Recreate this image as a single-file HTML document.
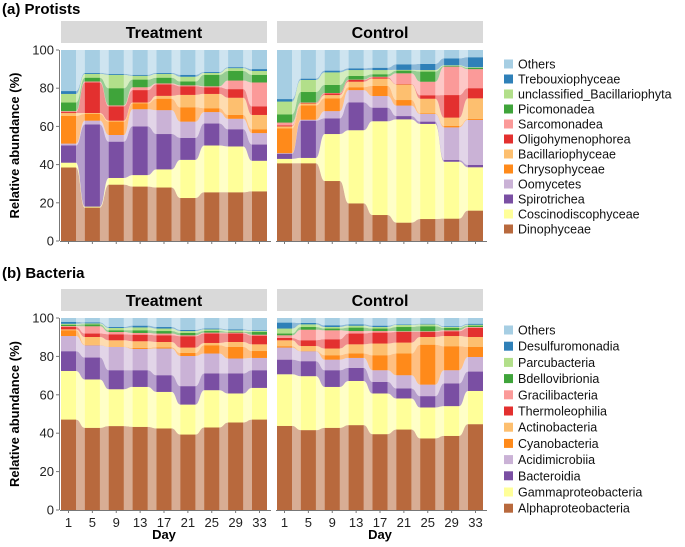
<!DOCTYPE html>
<html><head><meta charset="utf-8">
<style>
body{margin:0;background:#fff;font-family:"Liberation Sans",Arial,sans-serif;}
svg text{font-family:"Liberation Sans",Arial,sans-serif;}
</style></head>
<body>
<svg id="chart" width="685" height="542" xmlns="http://www.w3.org/2000/svg"></svg>
<script>
const days = [1,5,9,13,17,21,25,29,33];
const yTicks = [0,20,40,60,80,100];
const protistTaxa = ["Dinophyceae","Coscinodiscophyceae","Spirotrichea","Oomycetes","Chrysophyceae","Bacillariophyceae","Oligohymenophorea","Sarcomonadea","Picomonadea","unclassified_Bacillariophyta","Trebouxiophyceae","Others"];
const bacteriaTaxa = ["Alphaproteobacteria","Gammaproteobacteria","Bacteroidia","Acidimicrobiia","Cyanobacteria","Actinobacteria","Thermoleophilia","Gracilibacteria","Bdellovibrionia","Parcubacteria","Desulfuromonadia","Others"];
const colors = ["#b8693d","#ffff99","#7a4fa3","#cab2d6","#ff8a1a","#fdbf6f","#e3302f","#fb9a99","#3fa43a","#b2df8a","#2f80b8","#a6cee3"];
// cumulative abundance (%) at top of each taxon (bottom to top; "Others" tops at 100)
const protTreatment = [
 [38.5,41,50,51,65.5,67,67.5,68,72.5,77,78.5,100],
 [17.5,18,61,63,66.5,67,83,83.5,85.5,87.5,88,100],
 [29.5,33,52,55.5,62.5,63,70.5,71,80,87,87.5,100],
 [28.5,34.5,60,69,72,72.5,79,80.5,84.5,86.5,87,100],
 [28,37.5,56,68.5,74.5,76,82,82.5,85.5,87.5,88,100],
 [22.5,42.5,54,62.5,70,76.5,81,81.5,83.5,86,87,100],
 [25.5,50,61.5,67.5,69.5,77,80.5,81,87,88,88.5,100],
 [25.5,49.5,58.5,64,66,75,79.5,84,89,90.5,91,100],
 [26,42,50.5,56.5,58.5,66,70.5,83,87,89,90,100]
];
const protControl = [
 [40.7,43,45.7,46,59,60,60.5,62,66.3,73,74.3,100],
 [40.7,43.5,63,63.5,71,72,72.3,72.5,78,84.3,85,100],
 [31.4,56,64.2,68,74.7,76.4,77.3,77.5,81.7,88.3,89.2,100],
 [19.7,58,72.6,79,80.5,83.4,84.3,84.5,86.4,89.5,90.4,100],
 [13.6,62.7,69.8,75.9,81.2,85,85.7,86,87.3,89.5,90.7,100],
 [9.6,63.7,65.4,70.9,73.8,82,82.2,87.8,89.2,89.6,92.5,100],
 [11.5,61.3,62.5,66.5,66.8,74.5,76.3,83.4,88.7,89.5,92.7,100],
 [11.7,41.5,42.4,59.5,60.2,64.6,76.4,91.3,91.6,92,95.6,100],
 [15.9,38.6,39.8,63.4,63.9,74.7,80,90,90.6,91,96.2,100]
];
const bactTreatment = [
 [47.1,72.4,82.7,90.6,93.6,94.1,95.3,95.8,96.5,97,98,100],
 [42.8,68,79.4,85.8,86,90.1,91.9,95.7,96.7,97.2,97.7,100],
 [43.7,62.9,72.8,84.9,85,88.4,91.5,92.7,93.6,94.8,95.3,100],
 [43.3,64.1,72.8,83.9,84.4,87.9,91.3,92.2,93.6,95.1,96,100],
 [42.5,61.5,70.2,84.1,84.7,87.5,91,91.9,93.2,94.5,95.3,100],
 [39.3,54.9,64.5,80.2,81.8,84.6,90.5,91,92.2,93.2,93.8,100],
 [43,62.4,71.1,81.5,85.8,87,91.9,92.4,93.2,94.1,94.5,100],
 [45.6,60.7,71.1,78.9,84.9,87.5,91.9,92.4,92.7,93.6,94,100],
 [47.1,63.6,72.8,79.2,82.8,86.3,90.8,91.3,92.7,93.2,93.6,100]
];
const bactControl = [
 [43.8,70.7,78.3,84.6,85.3,88.4,89.6,91,91.9,94.5,97.6,100],
 [41.6,69.7,77.5,82.7,82.8,85.4,88.4,93.9,95.3,96.7,97.4,100],
 [42.8,64.1,72.8,78.3,80.6,84.1,88.9,93.6,94.5,95.3,96.2,100],
 [44.2,67.2,74,79.2,81.5,86.3,91.9,93.2,95,96,96.7,100],
 [39.5,60.7,66.7,72.8,80.6,86.7,92.4,93.2,94.5,95.3,96,100],
 [41.9,58.1,63.3,70.2,81.5,87.2,92.7,93.1,95.3,96.4,96.7,100],
 [37.3,53.4,59.3,65.3,86.1,90.1,92.7,93.1,95.7,96.7,97,100],
 [38.6,54.1,65.9,72.8,85.3,90.6,93.1,93.6,94.8,95.3,95.7,100],
 [44.7,62,72.1,79.7,84.9,90.1,94.8,95.3,96,96.5,97,100]
];

const svg = document.getElementById('chart');
const NS = 'http://www.w3.org/2000/svg';
function mk(tag, attrs, parent){const e=document.createElementNS(NS,tag);for(const k in attrs)e.setAttribute(k,attrs[k]);(parent||svg).appendChild(e);return e;}

function panel(data, x0, x1, yTop, yBot, title, showLabels, name){
  const g = mk('g',{});
  
  
  const bw = 15;
  const pitch = (x1 - x0 - bw)/(days.length-1);
  const xs = i => x0 + i*pitch;
  const y = v => yBot - v/100*(yBot-yTop);
  // strip
  const strip = mk('rect',{x:x0,y:yTop-29,width:x1-x0,height:22,fill:'#d9d9d9'},g);
  
  
  const st = mk('text',{x:(x0+x1)/2,y:yTop-12,'text-anchor':'middle','font-size':'16','font-weight':'bold',fill:'#000'},g);
  st.textContent = title;
  
  
  const nL = colors.length;
  // connecting areas
  for(let L=0; L<nL; L++){
    const lo = i => L===0?0:data[i][L-1];
    const hi = i => data[i][L];
    let d = '';
    for(let i=0;i<days.length;i++){
      const a=xs(i), b=xs(i)+bw;
      if(i===0) d+=`M${a},${y(hi(i))} `;
      else { const pa=xs(i-1)+bw, m=(pa+a)/2; d+=`C${m},${y(hi(i-1))} ${m},${y(hi(i))} ${a},${y(hi(i))} `; }
      d+=`L${b},${y(hi(i))} `;
    }
    for(let i=days.length-1;i>=0;i--){
      const a=xs(i), b=xs(i)+bw;
      if(i===days.length-1) d+=`L${b},${y(lo(i))} `;
      else { const na=xs(i+1), m=(b+na)/2; d+=`C${m},${y(lo(i+1))} ${m},${y(lo(i))} ${b},${y(lo(i))} `; }
      d+=`L${a},${y(lo(i))} `;
    }
    d+='Z';
    const p = mk('path',{d:d,fill:colors[L],'fill-opacity':0.55},g);
    
    
  }
  // bars
  for(let i=0;i<days.length;i++){
    for(let L=0;L<nL;L++){
      const lo = L===0?0:data[i][L-1], hi=data[i][L];
      const r = mk('rect',{x:xs(i),y:y(hi),width:bw,height:Math.max(0,y(lo)-y(hi)),fill:colors[L]},g);
      
      
    }
  }
  // x axis
  mk('line',{x1:x0-1,y1:yBot+0.5,x2:x1+4,y2:yBot+0.5,stroke:'#777','stroke-width':1},g);
  for(let i=0;i<days.length;i++){
    const cx = xs(i)+bw/2;
    mk('line',{x1:cx,y1:yBot,x2:cx,y2:yBot+3,stroke:'#777'},g);
    if(showLabels){
      const t = mk('text',{x:cx,y:yBot+17,'text-anchor':'middle','font-size':'13',fill:'#222'},g);
      t.textContent = days[i];
      
      
    }
  }
  if(showLabels){
    const dt = mk('text',{x:(x0+x1)/2,y:yBot+29,'text-anchor':'middle','font-size':'13','font-weight':'bold',fill:'#000'},g);
    dt.textContent='Day';
    
    
  }
  return {y};
}

function yAxis(yTop, yBot, x){
  mk('line',{x1:x+0.5,y1:yTop,x2:x+0.5,y2:yBot,stroke:'#777'});
  for(const v of yTicks){
    const yy = yBot - v/100*(yBot-yTop);
    mk('line',{x1:x-3,y1:yy,x2:x,y2:yy,stroke:'#777'});
    const t = mk('text',{x:x-5,y:yy+4.5,'text-anchor':'end','font-size':'13',fill:'#222'});
    t.textContent = v;
    
    
  }
  const t = mk('text',{x:0,y:0,'text-anchor':'middle','font-size':'13','font-weight':'bold',fill:'#000',transform:`translate(19,${(yTop+yBot)/2}) rotate(-90)`});
  t.textContent='Relative abundance (%)';
  
  
}

function legend(taxa, yFirst, step, name){
  for(let k=0;k<taxa.length;k++){
    const L = taxa.length-1-k;
    const yy = yFirst + k*step;
    const r = mk('rect',{x:504,y:yy-4.5,width:9,height:9,fill:colors[L]});
    
    
    const t = mk('text',{x:518,y:yy+4.5,'font-size':'12.5',fill:'#111'});
    t.textContent = taxa[L];
    
    
  }
}

const h1 = mk('text',{x:2,y:14,'font-size':'15','font-weight':'bold',fill:'#000'});
h1.textContent='(a) Protists';


const h2 = mk('text',{x:2,y:278,'font-size':'15','font-weight':'bold',fill:'#000'});
h2.textContent='(b) Bacteria';



panel(protTreatment, 61, 267, 50, 241, 'Treatment', false, 'protists-treatment');
panel(protControl, 277, 483, 50, 241, 'Control', false, 'protists-control');
yAxis(50, 241, 59);
legend(protistTaxa, 64, 15, 'protists-legend');

panel(bactTreatment, 61, 267, 318, 510, 'Treatment', true, 'bacteria-treatment');
panel(bactControl, 277, 483, 318, 510, 'Control', true, 'bacteria-control');
yAxis(318, 510, 59);
legend(bacteriaTaxa, 330, 16.2, 'bacteria-legend');
</script>
</body></html>
